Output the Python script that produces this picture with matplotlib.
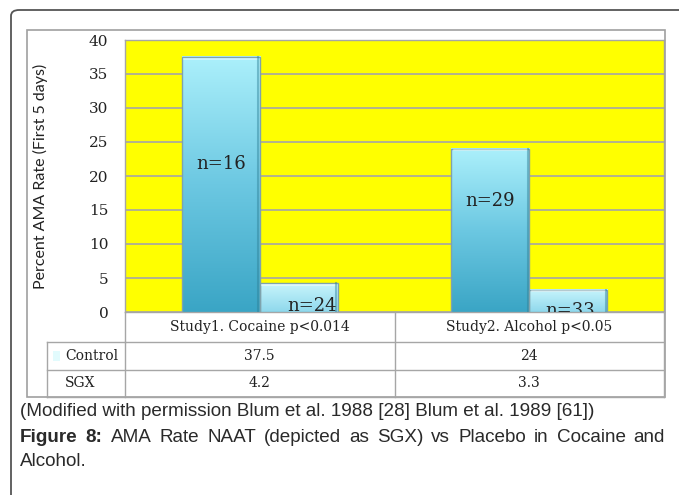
import numpy as np
import matplotlib
matplotlib.use("Agg")
import matplotlib.pyplot as plt
from matplotlib.patches import Rectangle, FancyBboxPatch
from matplotlib.lines import Line2D
from matplotlib.colors import LinearSegmentedColormap

# data
categories = ["Study1. Cocaine p<0.014", "Study2. Alcohol p<0.05"]
series_names = ["Control", "SGX"]
control = [37.5, 24]
sgx = [4.2, 3.3]
control_n = ["n=16", "n=29"]
sgx_n = ["n=24", "n=33"]
yticks = [0, 5, 10, 15, 20, 25, 30, 35, 40]

W, H = 679, 495
fig = plt.figure(figsize=(W / 100, H / 100), dpi=100)


def fx(x):
    return x / W


def fy(y):
    return 1 - y / H


def hline(x0, x1, y, color="#a6a6a6", lw=1.0):
    fig.add_artist(Line2D([fx(x0), fx(x1)], [fy(y), fy(y)], color=color, lw=lw))


def vline(x, y0, y1, color="#a6a6a6", lw=1.0):
    fig.add_artist(Line2D([fx(x), fx(x)], [fy(y0), fy(y1)], color=color, lw=lw))


# outer rounded frame (only top and left visible)
fig.add_artist(FancyBboxPatch((fx(11), fy(600)), fx(700), fy(10) - fy(600),
                              boxstyle="round,pad=0,rounding_size=0.012",
                              transform=fig.transFigure, fill=False,
                              edgecolor="#555555", lw=1.3))

# chart frame
fig.add_artist(Rectangle((fx(27), fy(397)), fx(665) - fx(27), fy(30) - fy(397),
                         transform=fig.transFigure, fill=False,
                         edgecolor="#a0a0a0", lw=1.2))

# plot area
L, R, T, B = 125, 664, 40, 312
ax = fig.add_axes([fx(L), fy(B), fx(R) - fx(L), fy(T) - fy(B)])
ax.set_facecolor("#ffff00")
for s in ax.spines.values():
    s.set_color("#a6a6a6")
    s.set_linewidth(1.0)

x = np.arange(len(categories))
bw = 0.29

ctrl_cmap = LinearSegmentedColormap.from_list("ctrl", ["#3aa5c5", "#6cc8e2", "#acf0fb"])
sgx_cmap = LinearSegmentedColormap.from_list("sgx", ["#8fd8ec", "#c8f5fc"])


def grad_bar(x0, h, cmap):
    grad = np.linspace(0, 1, 256).reshape(-1, 1)
    ax.imshow(grad, extent=[x0, x0 + bw, 0, h], origin="lower",
              aspect="auto", cmap=cmap, zorder=3)
    rect = Rectangle((x0, 0), bw, h, fill=False, edgecolor="#7fa3ad",
                     lw=1.0, zorder=4)
    ax.add_patch(rect)
    # bevel highlight along the top, shade on the right
    ax.plot([x0 + 0.01, x0 + bw - 0.01], [h - 0.25, h - 0.25],
            color="white", alpha=0.5, lw=1.2, zorder=4)
    ax.plot([x0 + bw - 0.006, x0 + bw - 0.006], [0, h],
            color="#2e7f96", alpha=0.45, lw=1.5, zorder=4)


for i in range(len(categories)):
    grad_bar(x[i] - bw, control[i], ctrl_cmap)
    grad_bar(x[i], sgx[i], sgx_cmap)

# n labels
ctrl_label_y = [21.7, 16.3]
sgx_label_y = [0.9, 0.15]
sgx_label_dx = [0.05, 0.005]
for i in range(len(categories)):
    ax.text(x[i] - bw / 2, ctrl_label_y[i], control_n[i], ha="center", va="center",
            fontsize=13, family="DejaVu Serif", color="#222222", zorder=5)
    ax.text(x[i] + bw / 2 + sgx_label_dx[i], sgx_label_y[i], sgx_n[i], ha="center",
            va="center", fontsize=13, family="DejaVu Serif", color="#222222",
            zorder=5, clip_on=True)

ax.set_xlim(-0.5, 1.5)
ax.set_ylim(0, 40)
ax.set_yticks(yticks)
ax.set_xticks([])
ax.yaxis.grid(True, color="#a6a6a6", lw=1.2)
ax.set_axisbelow(True)
ax.tick_params(axis="y", length=0, pad=12)
for lab in ax.get_yticklabels():
    lab.set_family("DejaVu Serif")
    lab.set_fontsize(11)
    lab.set_color("#222222")

fig.text(fx(40), fy(176), "Percent AMA Rate (First 5 days)", rotation=90,
         ha="center", va="center", fontsize=11.5, family="Lato", color="#222222")

# data table
mid = (L + R) / 2
hline(L, R, 342)
hline(47, R, 370)
hline(47, R, 397)
hline(47, L, 342)
vline(47, 342, 397)
vline(L, B, 397)
vline(mid, B, 397)
vline(R, B, 397)

col_x = [(L + mid) / 2, (mid + R) / 2]
tfont = dict(family="DejaVu Serif", fontsize=10, color="#222222", va="center")
for i, c in enumerate(categories):
    fig.text(fx(col_x[i]), fy(327), c, ha="center", **tfont)
    fig.text(fx(col_x[i]), fy(356), f"{control[i]:g}", ha="center", **tfont)
    fig.text(fx(col_x[i]), fy(383), f"{sgx[i]:g}", ha="center", **tfont)
fig.text(fx(65), fy(356), series_names[0], ha="left", **tfont)
fig.text(fx(65), fy(383), series_names[1], ha="left", **tfont)
fig.add_artist(Rectangle((fx(53), fy(361)), fx(7), fy(351) - fy(361),
                         transform=fig.transFigure, color="#e2fbfd", lw=0))

# caption
cfont = dict(family="Liberation Sans", fontsize=13.6, color="#2a2a2a", va="center")
fig.text(fx(20), fy(411), "(Modified with permission Blum et al. 1988 [28] Blum et al. 1989 [61])",
         ha="left", **cfont)

# justified first line of the figure legend
renderer = fig.canvas.get_renderer()
line_words = [("Figure", "bold"), ("8:", "bold")] + [
    (w, "normal") for w in "AMA Rate NAAT (depicted as SGX) vs Placebo in Cocaine and".split()]
arts = []
for w, wt in line_words:
    t = fig.text(0, fy(438), w, ha="left", weight=wt, **cfont)
    arts.append(t)
widths = [t.get_window_extent(renderer).width for t in arts]
x0, x1 = 20, 665
gap = (x1 - x0 - sum(widths)) / (len(arts) - 1)
pos = x0
for t, wd in zip(arts, widths):
    t.set_x(fx(pos))
    pos += wd + gap
fig.text(fx(20), fy(461), "Alcohol.", ha="left", **cfont)

fig.savefig("out.png", dpi=100)
